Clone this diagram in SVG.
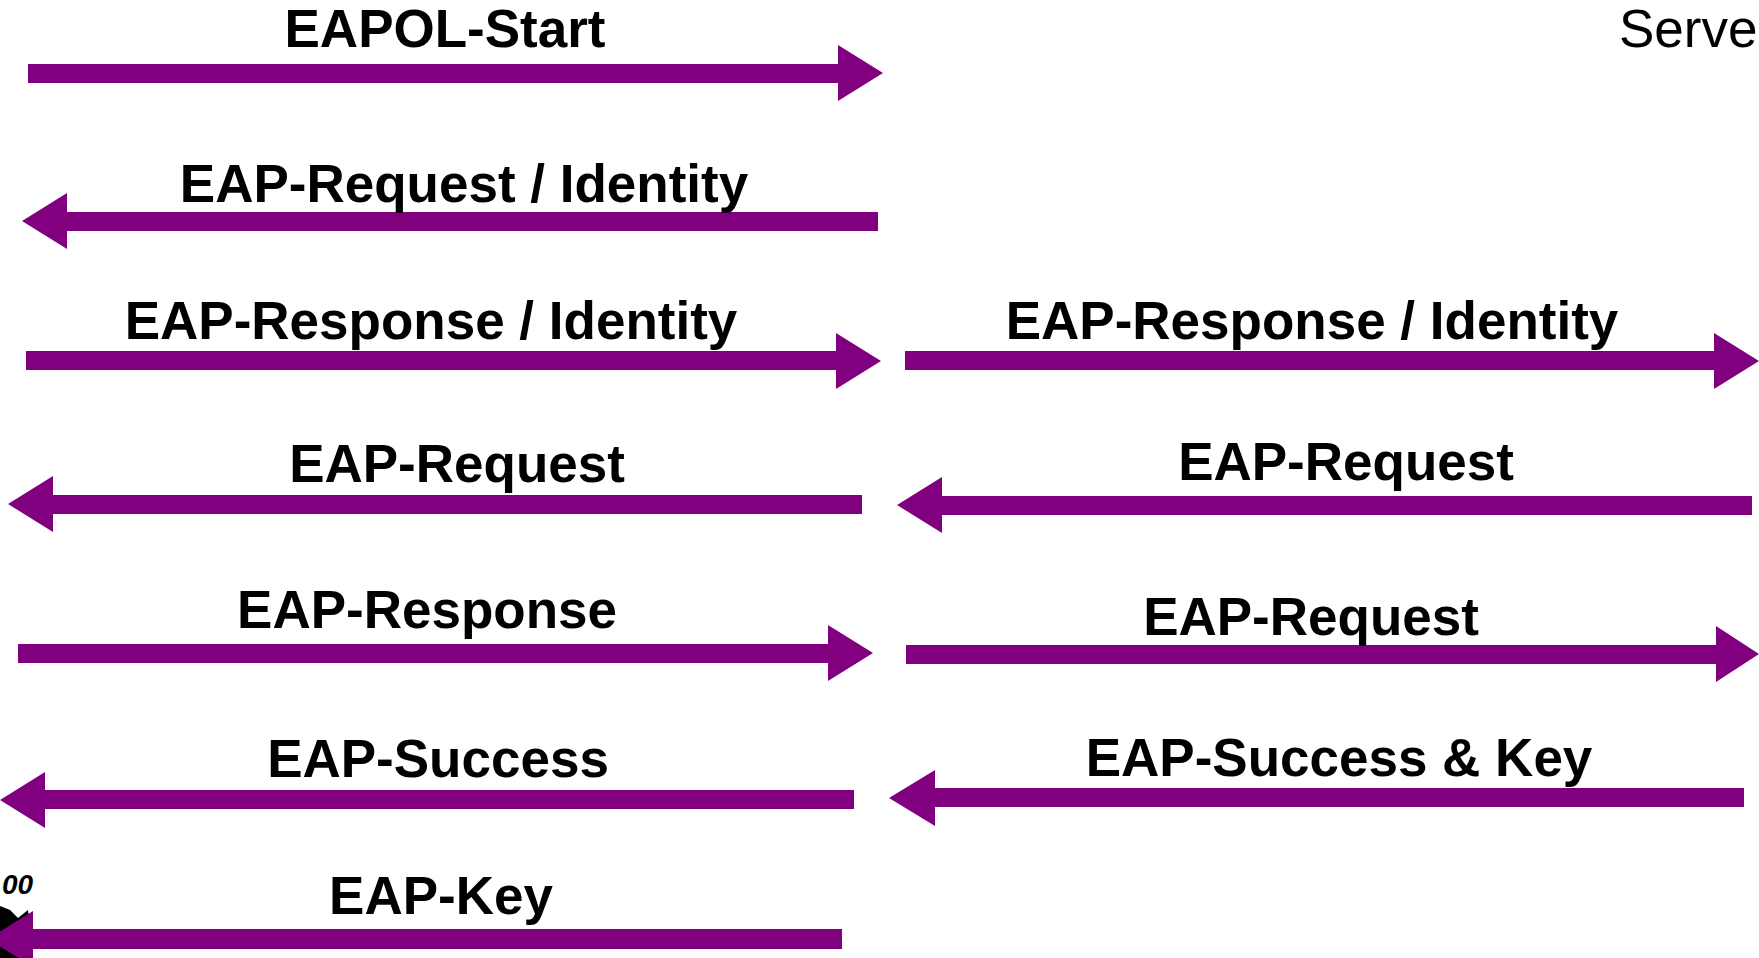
<svg xmlns="http://www.w3.org/2000/svg" width="1759" height="958" viewBox="0 0 1759 958">
<style>
.arr{fill:#800080}
.lbl{font-family:"Liberation Sans",Arial,sans-serif;font-weight:bold;font-size:53px;fill:#000;text-anchor:middle}
.srv{font-family:"Liberation Sans",Arial,sans-serif;font-size:53px;fill:#000}
.logo{font-family:"Liberation Sans",Arial,sans-serif;font-weight:900;font-style:italic;font-size:28px;fill:#000}
</style>
<rect width="1759" height="958" fill="#fff"/>
<g id="server-label"><text class="srv" x="1619" y="47">Serve</text></g>
<g id="logo-fragment">
<text class="logo" x="2" y="894">00</text>
<path d="M0,906 L10,910 L18,918 L28,910 L30,930 L14,945 L22,958 L0,958 Z" fill="#000"/>
</g>
<g id="connectors">
<g id="msg1">
<polygon class="arr" points="28,64 838,64 838,45 883,73 838,101 838,83 28,83"/>
<text class="lbl" x="445" y="47">EAPOL-Start</text>
</g>
<g id="msg2">
<polygon class="arr" points="878,212 67,212 67,193 22,221 67,249 67,231 878,231"/>
<text class="lbl" x="464" y="202">EAP-Request / Identity</text>
</g>
<g id="msg3a">
<polygon class="arr" points="26,351 836,351 836,333 881,361 836,389 836,370 26,370"/>
<text class="lbl" x="431" y="339">EAP-Response / Identity</text>
</g>
<g id="msg3b">
<polygon class="arr" points="905,351 1714,351 1714,333 1759,361 1714,389 1714,370 905,370"/>
<text class="lbl" x="1312" y="339">EAP-Response / Identity</text>
</g>
<g id="msg4a">
<polygon class="arr" points="862,495 53,495 53,476 8,504 53,532 53,514 862,514"/>
<text class="lbl" x="457" y="482">EAP-Request</text>
</g>
<g id="msg4b">
<polygon class="arr" points="1752,496 942,496 942,477 897,505 942,533 942,515 1752,515"/>
<text class="lbl" x="1346" y="480">EAP-Request</text>
</g>
<g id="msg5a">
<polygon class="arr" points="18,644 828,644 828,625 873,653 828,681 828,663 18,663"/>
<text class="lbl" x="427" y="628">EAP-Response</text>
</g>
<g id="msg5b">
<polygon class="arr" points="906,645 1716,645 1716,626 1759,654 1716,682 1716,664 906,664"/>
<text class="lbl" x="1311" y="635">EAP-Request</text>
</g>
<g id="msg6a">
<polygon class="arr" points="854,790 45,790 45,772 0,800 45,828 45,809 854,809"/>
<text class="lbl" x="438" y="777">EAP-Success</text>
</g>
<g id="msg6b">
<polygon class="arr" points="1744,788 935,788 935,770 889,798 935,826 935,807 1744,807"/>
<text class="lbl" x="1339" y="776">EAP-Success &amp; Key</text>
</g>
<g id="msg7">
<polygon class="arr" points="842,929 33,929 33,911 -12,939 33,967 33,949 842,949"/>
<text class="lbl" x="441" y="914">EAP-Key</text>
</g>
</g>
</svg>
